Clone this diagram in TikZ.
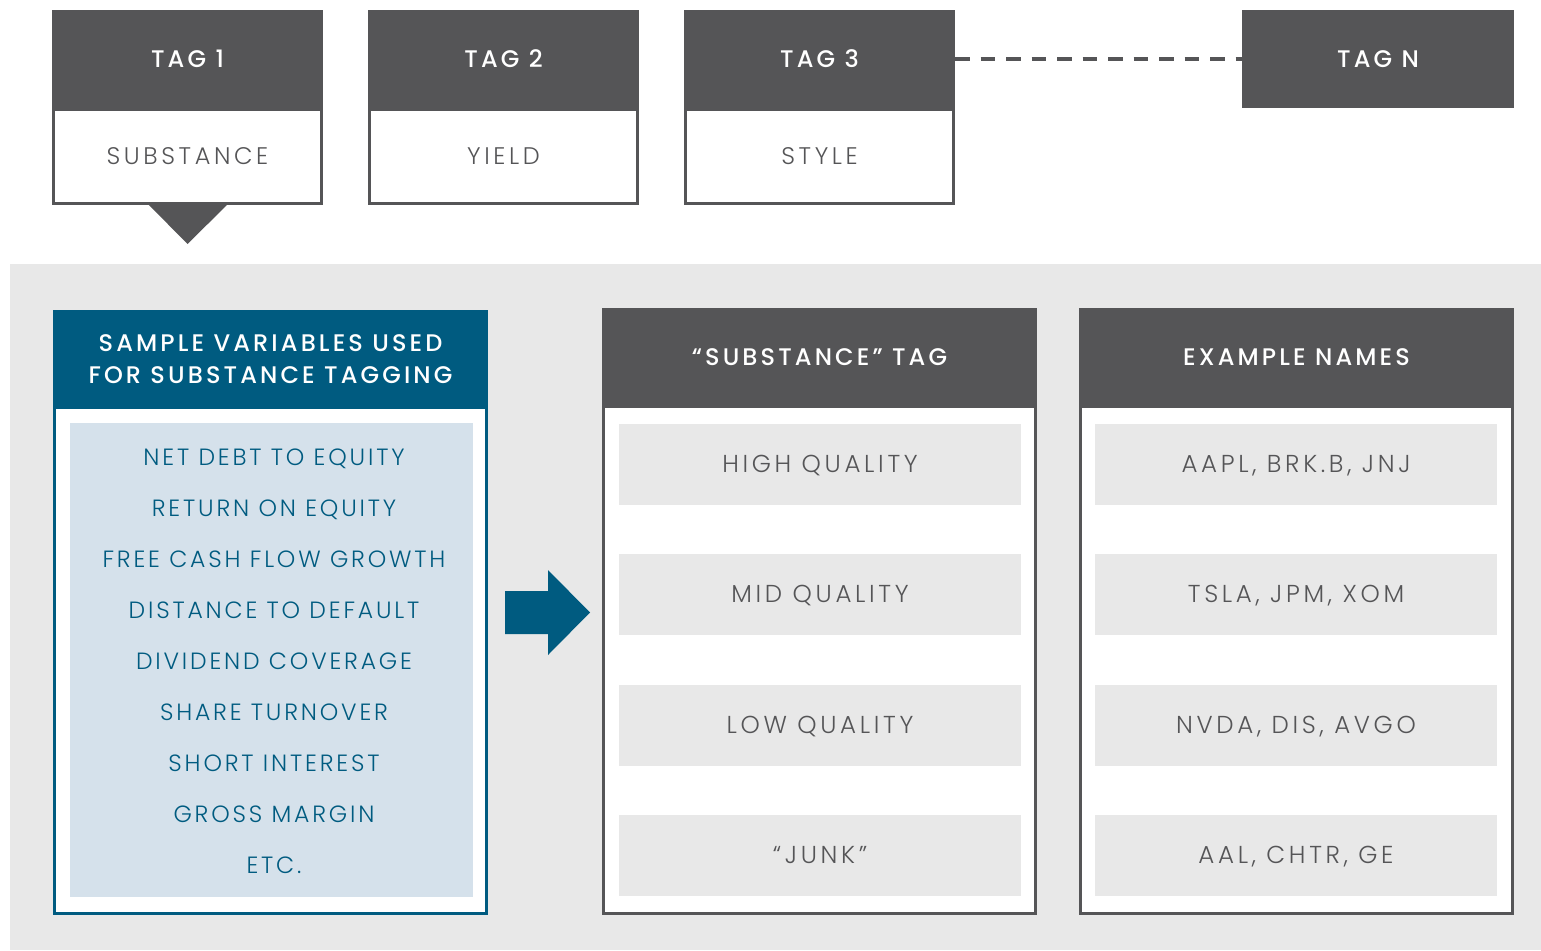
\documentclass[tikz,border=0pt]{standalone}
\usepackage{fontspec}
\setmainfont{Poppins}[LetterSpace=12]
\newfontfamily\hdfont{Poppins Medium}[LetterSpace=13]
\newfontfamily\lightfont{Poppins Light}[LetterSpace=12]
\newfontfamily\widefont{Poppins Light}[LetterSpace=15]
\definecolor{tagdark}{HTML}{555557}
\definecolor{tagblue}{HTML}{005B80}
\definecolor{paleblue}{HTML}{D5E1EB}
\definecolor{panelgray}{HTML}{E8E8E8}
\definecolor{labelgray}{HTML}{555557}
\tikzset{
  box/.style={inner sep=0pt, outer sep=0pt},
  capline/.style={text height=16.5pt, text depth=0pt},
  hdr/.style={box, capline, fill=tagdark, text=white, font=\hdfont\fontsize{24}{24}\selectfont},
  bluehdr/.style={box, fill=tagblue, text=white, align=center, font=\hdfont\fontsize{24}{32}\selectfont},
  tagbody/.style={box, capline, fill=white, draw=tagdark, line width=3pt, text=labelgray, font=\widefont\fontsize{24}{24}\selectfont},
  colbody/.style={box, fill=white, line width=3pt},
  row/.style={box, capline, fill=panelgray, minimum width=402pt, minimum height=81pt, text=labelgray, font=\widefont\fontsize{24.5}{24.5}\selectfont},
  var/.style={box, capline, text=tagblue, font=\lightfont\fontsize{23.5}{23.5}\selectfont},
}
\begin{document}
\begin{tikzpicture}[x=1pt,y=-1pt]
\useasboundingbox (0,0) rectangle (1541,950);
\fill[white] (0,0) rectangle (1541,950);

% tag strip
\node[hdr, minimum width=271pt, minimum height=98pt] (t1h) at (187.5,59) {TAG 1};
\node[tagbody, minimum width=268pt, minimum height=94pt] (t1b) at (187.5,156.5) {SUBSTANCE};
\node[hdr, minimum width=271pt, minimum height=98pt] (t2h) at (503.5,59) {TAG 2};
\node[tagbody, minimum width=268pt, minimum height=94pt] (t2b) at (503.5,156.5) {YIELD};
\node[hdr, minimum width=271pt, minimum height=98pt] (t3h) at (819.5,59) {TAG 3};
\node[tagbody, minimum width=268pt, minimum height=94pt] (t3b) at (819.5,156.5) {STYLE};
\node[hdr, minimum width=272pt, minimum height=98pt] (tNh) at (1378,59) {TAG N};
\draw[tagdark, line width=4pt, dash pattern=on 14.5pt off 11pt] (t3h.east) -- (tNh.west);
\fill[tagdark] (148,204) -- (228,204) -- (187.5,244) -- cycle;

% panel
\fill[panelgray] (10,264) rectangle (1541,950);

% variables column
\node[colbody, draw=tagblue, minimum width=432pt, minimum height=507pt] (vb) at (270.5,660) {};
\node[bluehdr, minimum width=435pt, minimum height=99pt] (vh) at (270.5,359.5) {SAMPLE VARIABLES USED\\FOR SUBSTANCE TAGGING};
\node[box, fill=paleblue, minimum width=403pt, minimum height=474pt] (vi) at (271.5,660) {};
\foreach \t [count=\i from 0] in {NET DEBT TO EQUITY, RETURN ON EQUITY, FREE CASH FLOW GROWTH, DISTANCE TO DEFAULT, DIVIDEND COVERAGE, SHARE TURNOVER, SHORT INTEREST, GROSS MARGIN, ETC.}
  \node[var] (v\i) at (274,457+51*\i) {\t};

% arrow
\fill[tagblue] (505,591) -- (548,591) -- (548,570) -- (590,612.5) -- (548,655) -- (548,634) -- (505,634) -- cycle;

% tag column
\node[colbody, draw=tagdark, minimum width=432pt, minimum height=507.5pt] (mb) at (819.5,659.75) {};
\node[hdr, minimum width=435pt, minimum height=98pt] (mh) at (819.5,357) {“SUBSTANCE” TAG};
\node[row] (m1) at (820,464.5) {HIGH QUALITY};
\node[row] (m2) at (820,594.5) {MID QUALITY};
\node[row] (m3) at (820,725.5) {LOW QUALITY};
\node[row] (m4) at (820,855.5) {“JUNK”};

% names column
\node[colbody, draw=tagdark, minimum width=432pt, minimum height=507.5pt] (nb) at (1296.5,659.75) {};
\node[hdr, minimum width=435pt, minimum height=98pt] (nh) at (1296.5,357) {EXAMPLE NAMES};
\node[row] (n1) at (1296,464.5) {AAPL, BRK.B, JNJ};
\node[row] (n2) at (1296,594.5) {TSLA, JPM, XOM};
\node[row] (n3) at (1296,725.5) {NVDA, DIS, AVGO};
\node[row] (n4) at (1296,855.5) {AAL, CHTR, GE};
\end{tikzpicture}
\end{document}
